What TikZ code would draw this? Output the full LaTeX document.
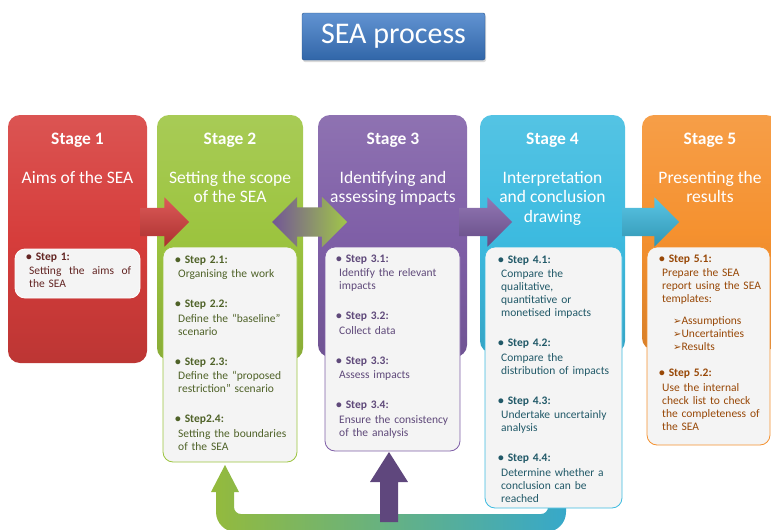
\documentclass[tikz,border=0pt]{standalone}
\usepackage{fontspec}
\setmainfont{Carlito}
\newfontfamily\dingfont{DejaVu Sans}
\usetikzlibrary{shapes.arrows,shadows}

% stage colours and the darker tones used for the step texts
\definecolor{seablue}{HTML}{3A78C6}
\definecolor{stagered}{HTML}{D63D3B}
\definecolor{stagegreen}{HTML}{9CC43F}
\definecolor{stagepurple}{HTML}{7F5FA7}
\definecolor{stagecyan}{HTML}{3DBBE0}
\definecolor{stageorange}{HTML}{F5912F}
\definecolor{textred}{HTML}{632523}
\definecolor{textgreen}{HTML}{4F6228}
\definecolor{textpurple}{HTML}{5F497A}
\definecolor{textcyan}{HTML}{215968}
\definecolor{textorange}{HTML}{984807}
\definecolor{boxgray}{HTML}{F4F4F4}

\newcommand{\steplabel}[1]{\hspace*{-3pt}\textbf{\textbullet~#1}}
\newcommand{\tplitem}[1]{\hspace*{11pt}{\dingfont\fontsize{10}{13}\selectfont ➢}#1}

\begin{document}
\begin{tikzpicture}[x=1pt,y=-1pt]
\tikzset{
  titlebox/.style={rectangle,rounded corners=2pt,minimum width=183pt,minimum height=47pt,
    top color=seablue!80!white,bottom color=seablue!85!black,draw=seablue!70!black,line width=0.4pt,
    drop shadow={opacity=0.3,shadow xshift=1pt,shadow yshift=-2pt},
    text=white,font=\fontsize{30}{34}\selectfont},
  stagebox/.style={rectangle,rounded corners=12pt,inner sep=0pt,
    top color=#1!88!white,bottom color=#1!88!black,middle color=#1},
  stagehead/.style={anchor=base,inner sep=0pt,text=white,font=\fontsize{17.5}{20}\selectfont\bfseries},
  stagename/.style={anchor=north,inner sep=0pt,text=white,align=center,font=\fontsize{17.5}{19.5}\selectfont},
  shaft/.style={inner sep=0pt,text height=#1,text depth=#1},
  blockarrow/.style={single arrow,shaft=14pt,single arrow head extend=10.5pt,
    top color=#1!85!white,bottom color=#1!80!black},
  stepbox/.style={rectangle,rounded corners=10pt,draw=#1,line width=0.8pt,fill=boxgray},
  steptext/.style={anchor=north west,inner sep=0pt,align=left,text width=#1,
    font=\fontsize{11.5}{13}\selectfont}
}
\useasboundingbox (0,0) rectangle (771,530);
\clip (0,0) rectangle (771,530);

\node[titlebox] (title) at (393.5,36.5) {SEA process};

% the five stages
\node[stagebox=stagered,minimum width=139pt,minimum height=248pt] (s1) at (77.5,239) {};
\node[stagebox=stagegreen,minimum width=146pt,minimum height=245pt] (s2) at (230,237.5) {};
\node[stagebox=stagepurple,minimum width=149pt,minimum height=242pt] (s3) at (392.5,236) {};
\node[stagebox=stagecyan,minimum width=145pt,minimum height=238pt] (s4) at (552.5,234) {};
\node[stagebox=stageorange,minimum width=136pt,minimum height=235pt] (s5) at (710,232.5) {};

\node[stagehead] (h1) at (77.5,144) {Stage 1};
\node[stagehead] (h2) at (230,144) {Stage 2};
\node[stagehead] (h3) at (393,144) {Stage 3};
\node[stagehead] (h4) at (552.5,144) {Stage 4};
\node[stagehead] (h5) at (710,144) {Stage 5};

\node[stagename] (n1) at (77.5,171) {Aims of the SEA};
\node[stagename] (n2) at (230,171) {Setting the scope\\of the SEA};
\node[stagename] (n3) at (393,171) {Identifying and\\assessing impacts};
\node[stagename] (n4) at (552.5,171) {Interpretation\\and conclusion\\drawing};
\node[stagename] (n5) at (710,171) {Presenting the\\results};

% arrows from stage to stage
\node[blockarrow=stagered,minimum height=49pt] (a12) at (157.5,222) {};
\node[double arrow,shaft=14.5pt,double arrow head extend=10.5pt,minimum height=75pt,
  left color=stagepurple!90!black,right color=stagegreen!95!white] (a23) at (309.5,222) {};
\node[blockarrow=stagepurple,minimum height=53pt] (a34) at (478.5,222) {};
\node[blockarrow=stagecyan,minimum height=57pt] (a45) at (643.5,222) {};

% feedback loop under the step boxes
\path[left color=stagegreen!95!black,middle color=stagepurple,right color=stagecyan!90!black]
  (211,492) -- (225,465) -- (239,492) -- (234,492)
  [rounded corners=7pt] -- (234,514) -- (548,514)
  [sharp corners] -- (548,495) -- (566,495)
  [rounded corners=20pt] -- (566,532) -- (216,532)
  [sharp corners] -- (216,492) -- cycle;
\path[left color=stagepurple!75!black,middle color=stagepurple!85!white,right color=stagepurple!75!black]
  (380,522) -- (380,482) -- (370,482) -- (389,452) -- (408,482) -- (398,482) -- (398,522) -- cycle;

% step boxes
\node[stepbox=white,minimum width=125pt,minimum height=49pt] (b1) at (77.5,273.5) {};
\node[stepbox=stagegreen,minimum width=134pt,minimum height=215pt] (b2) at (230,354.5) {};
\node[stepbox=stagepurple,minimum width=135pt,minimum height=204pt] (b3) at (392.5,349) {};
\node[stepbox=stagecyan,minimum width=137pt,minimum height=261pt] (b4) at (553.5,377.5) {};
\node[stepbox=stageorange,minimum width=123pt,minimum height=198pt] (b5) at (708.5,346) {};

\node[steptext=102pt,text=textred] (t1) at (29,252.4) {%
\steplabel{Step 1:}\\[1.5pt]
Setting\hfill the\hfill aims\hfill of\\
the SEA};

\node[steptext=115pt,text=textgreen] (t2) at (178,255.4) {%
\steplabel{Step 2.1:}\\[1.5pt]
Organising the work\\[17pt]
\steplabel{Step 2.2:}\\[1.5pt]
Define the “baseline”\\
scenario\\[17pt]
\steplabel{Step 2.3:}\\[1.5pt]
Define the “proposed\\
restriction” scenario\\[17pt]
\steplabel{Step2.4:}\\[1.5pt]
Setting the boundaries\\
of the SEA};

\node[steptext=118pt,text=textpurple] (t3) at (339,254.4) {%
\steplabel{Step 3.1:}\\[1.5pt]
Identify the relevant\\
impacts\\[17pt]
\steplabel{Step 3.2:}\\[1.5pt]
Collect data\\[17pt]
\steplabel{Step 3.3:}\\[1.5pt]
Assess impacts\\[17pt]
\steplabel{Step 3.4:}\\[1.5pt]
Ensure the consistency\\
of the analysis};

\node[steptext=118pt,text=textcyan] (t4) at (501,255.4) {%
\steplabel{Step 4.1:}\\[1.5pt]
Compare the\\
qualitative,\\
quantitative or\\
monetised impacts\\[17pt]
\steplabel{Step 4.2:}\\[1.5pt]
Compare the\\
distribution of impacts\\[17pt]
\steplabel{Step 4.3:}\\[1.5pt]
Undertake uncertainly\\
analysis\\[17pt]
\steplabel{Step 4.4:}\\[1.5pt]
Determine whether a\\
conclusion can be\\
reached};

\node[steptext=106pt,text=textorange] (t5) at (662,254.4) {%
\steplabel{Step 5.1:}\\[1.5pt]
Prepare the SEA\\
report using the SEA\\
templates:\\[9pt]
\tplitem{Assumptions}\\
\tplitem{Uncertainties}\\
\tplitem{Results}\\[13pt]
\steplabel{Step 5.2:}\\[1.5pt]
Use the internal\\
check list to check\\
the completeness of\\
the SEA};
\end{tikzpicture}
\end{document}
